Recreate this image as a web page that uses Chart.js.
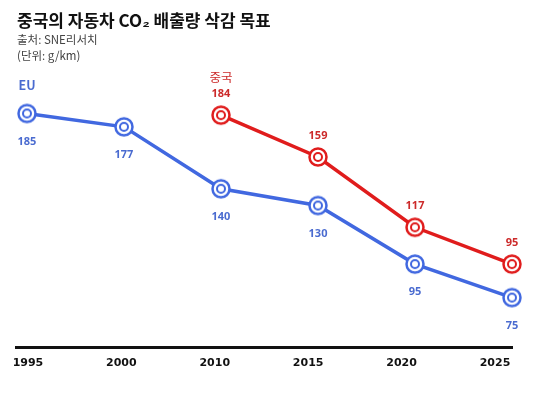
<!DOCTYPE html>
<html>
<head>
<meta charset="utf-8">
<script src="https://cdn.jsdelivr.net/npm/chart.js@4"></script>
<style>
  body { margin: 0; background: #fff; }
  #wrap { position: relative; width: 540px; height: 393px; }
  .t { position: absolute; left: 17px; font-family: "Noto Sans CJK KR", sans-serif; white-space: nowrap; }
  #title { top: 7px; font-size: 17px; font-weight: bold; color: #111; }
  #src { top: 31px; font-size: 11.5px; color: #444; }
  #unit { top: 47px; font-size: 11.5px; color: #444; }
</style>
</head>
<body>
<div id="wrap">
  <canvas id="c" width="540" height="393"></canvas>
  <div class="t" id="title">중국의 자동차 CO₂ 배출량 삭감 목표</div>
  <div class="t" id="src">출처: SNE리서치</div>
  <div class="t" id="unit">(단위: g/km)</div>
</div>
<script>
const years = ["1995", "2000", "2010", "2015", "2020", "2025"];
const euValues = [185, 177, 140, 130, 95, 75];
const chinaValues = [null, null, 184, 159, 117, 95];
const seriesNames = ["EU", "중국"];

const BLUE = "#4168e0";
const RED = "#e01c1c";

// double ring marker
function ring(color) {
    const c = document.createElement("canvas");
    c.width = 22; c.height = 22;
    const g = c.getContext("2d");
    g.fillStyle = "#fff";
    g.strokeStyle = color;
    g.lineWidth = 2.5;
    g.beginPath(); g.arc(11, 11, 8.5, 0, Math.PI * 2); g.fill(); g.stroke();
    g.lineWidth = 2;
    g.beginPath(); g.arc(11, 11, 4, 0, Math.PI * 2); g.stroke();
    return c;
}

// points sit on index positions
const toPoints = (arr) => arr.map((v, i) => ({ x: i, y: v }));

const labelsPlugin = {
    id: "valueLabels",
    afterDatasetsDraw(chart) {
        const ctx = chart.ctx;
        ctx.save();
        ctx.textAlign = "center";
        ctx.textBaseline = "middle";
        chart.data.datasets.forEach((ds, di) => {
            const meta = chart.getDatasetMeta(di);
            let first = true;
            meta.data.forEach((pt, i) => {
                const v = ds.data[i].y;
                if (v === null) return;
                ctx.fillStyle = ds.labelColor;
                ctx.font = "bold 11px 'Noto Sans', sans-serif";
                ctx.fillText(v, pt.x, pt.y + ds.valueOffset);
                if (first) {
                    ctx.font = ds.nameFont;
                    ctx.fillText(ds.label, pt.x, pt.y + ds.nameOffset);
                    first = false;
                }
            });
        });
        ctx.restore();
    }
};

new Chart(document.getElementById("c"), {
    type: "line",
    data: {
        datasets: [
            {
                label: seriesNames[0],
                data: toPoints(euValues),
                borderColor: BLUE,
                borderWidth: 3.5,
                pointStyle: ring(BLUE),
                labelColor: "#4a6bd0",
                valueOffset: 28,
                nameOffset: -28,
                nameFont: "bold 12.5px 'Noto Sans CJK KR', sans-serif",
                clip: false
            },
            {
                label: seriesNames[1],
                data: toPoints(chinaValues),
                borderColor: RED,
                borderWidth: 3.5,
                pointStyle: ring(RED),
                labelColor: "#cc2a2a",
                valueOffset: -21,
                nameOffset: -38,
                nameFont: "12.5px 'Noto Sans CJK KR', sans-serif",
                clip: false
            }
        ]
    },
    options: {
        responsive: false,
        animation: false,
        layout: { padding: { top: 80, left: 16, right: 28, bottom: 14 } },
        plugins: {
            legend: { display: false },
            tooltip: { enabled: false }
        },
        scales: {
            x: {
                type: "linear",
                display: false,
                min: -0.113,
                max: 5
            },
            xl: {
                type: "linear",
                position: "bottom",
                min: -0.128,
                max: 5.182,
                afterBuildTicks(axis) {
                    axis.ticks = years.map((y, i) => ({ value: i }));
                },
                grid: { display: false, drawTicks: false },
                border: { display: true, color: "#111", width: 3 },
                ticks: {
                    padding: 9,
                    color: "#111",
                    font: { family: "DejaVu Sans", weight: "bold", size: 11 },
                    callback: (v) => years[v]
                }
            },
            y: {
                display: false,
                min: 45,
                max: 205
            }
        }
    },
    plugins: [labelsPlugin]
});
</script>
</body>
</html>
